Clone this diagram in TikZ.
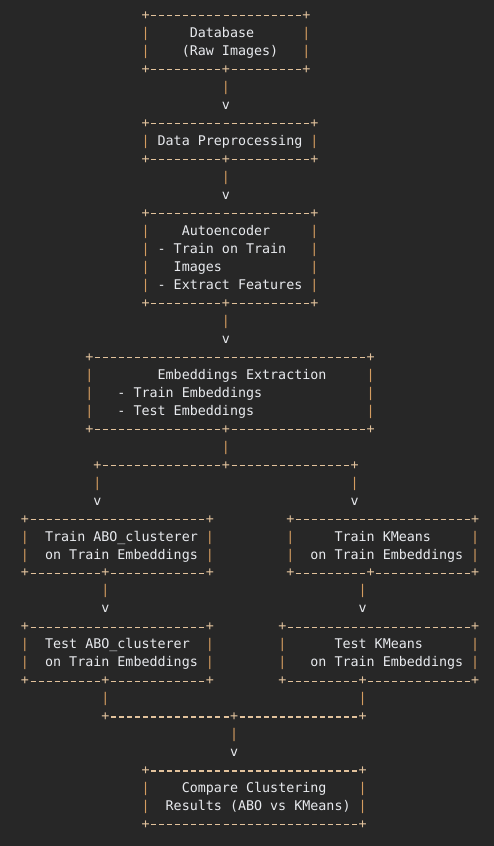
\documentclass[tikz,border=0pt]{standalone}
\usepackage{fontspec}
\setmonofont{DejaVu Sans Mono}

\definecolor{bgc}{HTML}{272727}
\definecolor{edgec}{HTML}{E2C29C}
\definecolor{barc}{HTML}{D49C60}
\definecolor{txtc}{HTML}{E8EAEE}

% one character cell: 8.04pt wide, 17.98pt high
\newcommand{\asciifont}{\ttfamily\fontsize{13.354pt}{17.98pt}\selectfont}

% height of the cross bar of "+" above the baseline
\newsavebox{\plusbox}
\newlength{\plusmid}

\tikzset{
  cell/.style={anchor=base west, inner sep=0pt, outer sep=0pt,
               xshift=-4.02pt, yshift=-4.6pt, font=\asciifont},
  edge/.style={cell, text=edgec},
  rail/.style={cell, text=barc},
  label/.style={cell, text=txtc},
  % dashed rule: one 5pt dash centred in every character cell
  dashrule/.style={draw=edgec, line width=1.1pt, line cap=butt,
                   dash pattern=on 5pt off 3.04pt, dash phase=6.52pt},
}

% joins two "+" nodes by a dashed rule at the height of their cross bars
\newcommand{\ruleline}[2]{%
  \draw[dashrule] ([yshift=\plusmid]#1.base east) -- ([yshift=\plusmid]#2.base west);%
}

% #1 name, #2/#3 left/right column, #4/#5 top/bottom line,
% #6 column of the tee on the bottom edge (-1 = none)
\newcommand{\asciibox}[6]{%
  \pgfmathtruncatemacro{\bya}{#4+1}\pgfmathtruncatemacro{\byb}{#5-1}%
  \node[edge] (#1-tl) at (#2,#4) {+};
  \node[edge] (#1-tr) at (#3,#4) {+};
  \node[edge] (#1-bl) at (#2,#5) {+};
  \node[edge] (#1-br) at (#3,#5) {+};
  \ruleline{#1-tl}{#1-tr}
  \ifnum#6<0
    \ruleline{#1-bl}{#1-br}
  \else
    \node[edge] (#1-tee) at (#6,#5) {+};
    \ruleline{#1-bl}{#1-tee}
    \ruleline{#1-tee}{#1-br}
  \fi
  \foreach \ry in {\bya,...,\byb}{%
    \node[rail] (#1-l\ry) at (#2,\ry) {|};
    \node[rail] (#1-r\ry) at (#3,\ry) {|};
  }%
}

% #1 name, #2 line, #3 left column, #4 tee column, #5 right column
\newcommand{\asciirule}[5]{%
  \node[edge] (#1-l) at (#3,#2) {+};
  \node[edge] (#1-m) at (#4,#2) {+};
  \node[edge] (#1-r) at (#5,#2) {+};
  \ruleline{#1-l}{#1-m}
  \ruleline{#1-m}{#1-r}
}

\begin{document}
\sbox{\plusbox}{\asciifont +}%
\setlength{\plusmid}{\dimexpr(\ht\plusbox-\dp\plusbox)/2\relax}%
\begin{tikzpicture}[x=8.04pt, y=-17.98pt]
  \fill[bgc] (-3.1095,-0.8343) rectangle (58.333,46.218);
  \useasboundingbox (-3.1095,-0.8343) rectangle (58.333,46.218);

  % Database
  \asciibox{db}{15}{35}{0}{3}{25}
  \node[label] (db-1) at (21,1) {Database};
  \node[label] (db-2) at (20,2) {(Raw Images)};
  \node[rail] (s1) at (25,4) {|};
  \node[label] (v1) at (25,5) {v};

  % Preprocessing
  \asciibox{prep}{15}{36}{6}{8}{25}
  \node[label] (prep-1) at (17,7) {Data Preprocessing};
  \node[rail] (s2) at (25,9) {|};
  \node[label] (v2) at (25,10) {v};

  % Autoencoder
  \asciibox{ae}{15}{36}{11}{16}{25}
  \node[label] (ae-1) at (20,12) {Autoencoder};
  \node[label] (ae-2) at (17,13) {- Train on Train};
  \node[label] (ae-3) at (19,14) {Images};
  \node[label] (ae-4) at (17,15) {- Extract Features};
  \node[rail] (s3) at (25,17) {|};
  \node[label] (v3) at (25,18) {v};

  % Embeddings
  \asciibox{emb}{8}{43}{19}{23}{25}
  \node[label] (emb-1) at (17,20) {Embeddings Extraction};
  \node[label] (emb-2) at (12,21) {- Train Embeddings};
  \node[label] (emb-3) at (12,22) {- Test Embeddings};
  \node[rail] (s4) at (25,24) {|};

  % split into two branches
  \asciirule{split}{25}{9}{25}{41}
  \node[rail] (s5l) at (9,26) {|};
  \node[rail] (s5r) at (41,26) {|};
  \node[label] (v5l) at (9,27) {v};
  \node[label] (v5r) at (41,27) {v};

  % training
  \asciibox{tabo}{0}{23}{28}{31}{10}
  \node[label] (tabo-1) at (3,29) {Train ABO\_clusterer};
  \node[label] (tabo-2) at (3,30) {on Train Embeddings};
  \asciibox{tkm}{33}{56}{28}{31}{43}
  \node[label] (tkm-1) at (39,29) {Train KMeans};
  \node[label] (tkm-2) at (36,30) {on Train Embeddings};
  \node[rail] (s6l) at (10,32) {|};
  \node[rail] (s6r) at (42,32) {|};
  \node[label] (v6l) at (10,33) {v};
  \node[label] (v6r) at (42,33) {v};

  % testing
  \asciibox{sabo}{0}{23}{34}{37}{10}
  \node[label] (sabo-1) at (3,35) {Test ABO\_clusterer};
  \node[label] (sabo-2) at (3,36) {on Train Embeddings};
  \asciibox{skm}{32}{56}{34}{37}{42}
  \node[label] (skm-1) at (39,35) {Test KMeans};
  \node[label] (skm-2) at (36,36) {on Train Embeddings};
  \node[rail] (s7l) at (10,38) {|};
  \node[rail] (s7r) at (42,38) {|};

  % merge
  \asciirule{join}{39}{10}{26}{42}
  \node[rail] (s8) at (26,40) {|};
  \node[label] (v8) at (26,41) {v};

  % comparison
  \asciibox{cmp}{15}{42}{42}{45}{-1}
  \node[label] (cmp-1) at (20,43) {Compare Clustering};
  \node[label] (cmp-2) at (18,44) {Results (ABO vs KMeans)};
\end{tikzpicture}
\end{document}
